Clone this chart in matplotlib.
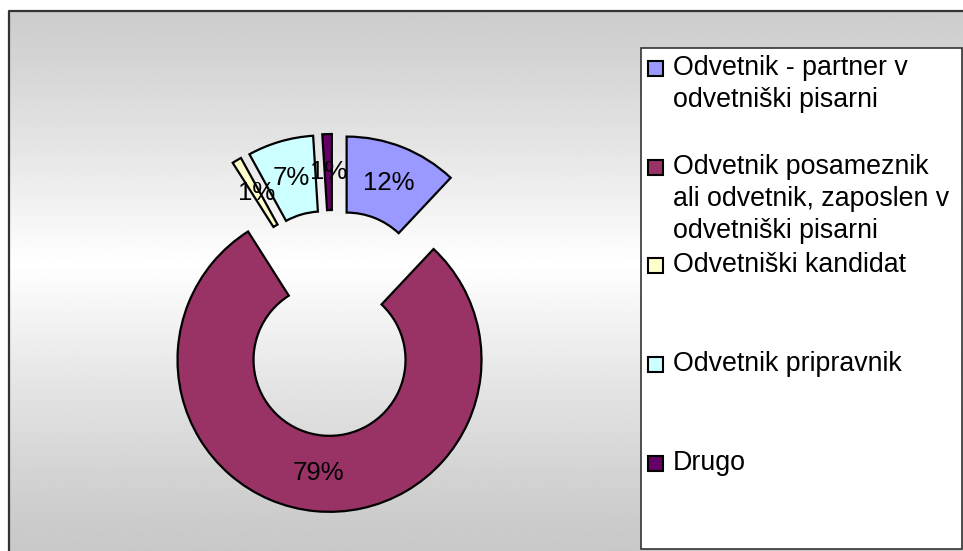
import numpy as np
import matplotlib
matplotlib.use("Agg")
import matplotlib.pyplot as plt
from matplotlib.patches import Rectangle

plt.rcParams['font.family'] = ['Liberation Sans', 'DejaVu Sans']

# data
labels = ['Odvetnik - partner v\nodvetniški pisarni',
          'Odvetnik posameznik\nali odvetnik, zaposlen v\nodvetniški pisarni',
          'Odvetniški kandidat',
          'Odvetnik pripravnik',
          'Drugo']
values = [12, 79, 1, 7, 1]
colors = ['#9999FF', '#993366', '#FFFFCC', '#CCFFFF', '#660066']

W, H = 963, 551
fig = plt.figure(figsize=(W / 100, H / 100), dpi=100)
ax = fig.add_axes([0, 0, 1, 1])

# gray -> white -> gray background inside the frame
yy = np.linspace(0, 1, 256)
shade = 0.785 + 0.215 * (1 - np.abs(yy - 0.47) / 0.53).clip(0, 1) ** 1.2
grad = np.tile(shade[:, None], (1, 2))
ax.imshow(grad, cmap='gray', vmin=0, vmax=1, aspect='auto',
          extent=[8.5, W, 0, H - 10.5], origin='upper', zorder=0)
ax.plot([8.5, 8.5, W], [0, H - 10.5, H - 10.5], color='#333333', lw=1.6, zorder=1)

R = 152
ax.pie(values, colors=colors, explode=[37] * len(values), radius=R,
       center=(333, H - 323), startangle=90, counterclock=False,
       autopct='%.0f%%', pctdistance=0.75,
       wedgeprops=dict(width=R / 2, edgecolor='black', linewidth=1.6),
       textprops=dict(fontsize=18.5, color='black'))

# legend box
ax.add_patch(Rectangle((641, H - 549), 321, 501, facecolor='white',
                       edgecolor='#333333', lw=1.2, zorder=3))
for i, (lab, col) in enumerate(zip(labels, colors)):
    base = H - (76 + i * 98.7)
    ax.add_patch(Rectangle((648, base), 15, 15, facecolor=col,
                           edgecolor='black', lw=1.5, zorder=4))
    ax.text(673, base + 21, lab, fontsize=19.3, va='top', ha='left',
            linespacing=1.3, zorder=4)

ax.set_xlim(0, W)
ax.set_ylim(0, H)
ax.set_aspect('auto')
ax.axis('off')
fig.savefig('out.png', dpi=100)
